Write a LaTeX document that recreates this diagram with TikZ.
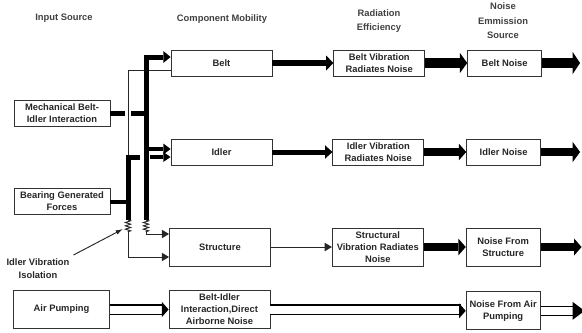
\documentclass[tikz,border=0pt]{standalone}
\usepackage{fontspec}
\setmainfont{Liberation Sans}
\usetikzlibrary{arrows.meta,positioning,decorations.pathmorphing}

\begin{document}
\begin{tikzpicture}[x=0.03cm, y=-0.03cm,
  box/.style={rectangle, draw=black!80, line width=0.7pt, minimum height=0.78cm,
              inner xsep=0.5pt, inner ysep=1pt, align=center, text=black!85,
              font=\bfseries\fontsize{8}{10.2}\selectfont},
  srcbox/.style={box, minimum width=2.88cm},
  compbox/.style={box, minimum width=3.03cm},
  radbox/.style={box, minimum width=2.73cm},
  noisebox/.style={box, minimum width=2.22cm},
  tall/.style={minimum height=1.14cm},
  head/.style={align=center, text=black!75, font=\bfseries\fontsize{8}{12.5}\selectfont},
  flow/.style 2 args={line width=#1, line join=miter,
              -{Triangle[length=0.22cm, width=#2, line width=0pt]}},
  flowline/.style={line width=#1},
  thn/.style={line width=0.8pt, black!85},
  thnarr/.style={thn, -{Triangle[length=0.22cm, width=0.26cm, line width=0pt]}},
  spring/.style={thn, decorate, decoration={zigzag, segment length=0.1cm, amplitude=0.08cm}},
  dbl/.style={double, double distance=0.24cm, line width=0.9pt, shorten >=0.15cm},
  dbltip/.style={line width=0.9pt, -{Triangle[length=0.2cm, width=#1, line width=0pt]}}
]
\useasboundingbox (0,0) rectangle (582,332);

% Column headings
\node[head] (hin)   at (64,18)  {Input Source};
\node[head] (hcomp) at (222,19) {Component Mobility};
\node[head] (hrad)  at (379,21) {Radiation\\Efficiency};
\node[head] (hnoi)  at (503,21) {Noise\\Emmission\\Source};

% Input sources
\node[srcbox] (mech)    at (62,113.5) {Mechanical Belt-\\Idler Interaction};
\node[srcbox] (bearing) at (62,201.5) {Bearing Generated\\Forces};
\node[srcbox, tall] (air) at (61.5,309.5) {Air Pumping};

% Component mobility
\node[compbox] (belt)  at (221.5,63)  {Belt};
\node[compbox] (idler) at (221.5,152) {Idler};
\node[compbox, tall] (struct) at (220,247) {Structure};
\node[compbox, tall] (bi) at (219.5,309.5) {Belt-Idler\\Interaction,Direct\\Airborne Noise};

% Radiation efficiency
\node[radbox, right=1.83cm of belt] (bvib) {Belt Vibration\\Radiates Noise};
\node[radbox, right=1.80cm of idler] (ivib) {Idler Vibration\\Radiates Noise};
\node[radbox, tall, right=1.83cm of struct] (svib) {Structural\\Vibration Radiates\\Noise};

% Noise emission source
\node[noisebox, right=1.26cm of bvib] (bnoise) {Belt Noise};
\node[noisebox, right=1.26cm of ivib] (inoise) {Idler Noise};
\node[noisebox, tall, right=1.26cm of svib] (snoise) {Noise From\\Structure};
\node[noisebox, tall, below=0.75cm of snoise] (anoise) {Noise From Air\\Pumping};

\coordinate[right=1.14cm of bnoise] (bout);
\coordinate[right=1.17cm of inoise] (iout);
\coordinate[right=1.23cm of snoise] (sout);
\coordinate[right=1.32cm of anoise] (aout);

% Junction points
\coordinate (bartop) at (146,57);
\coordinate (barbot) at (146,220);
\coordinate (rsp)    at (146,232);
\coordinate (bidl)   at (146,149);
\coordinate (ltop)   at (128,70);
\coordinate (lknee)  at (128,157);
\coordinate (lsp)    at (128,220);
\coordinate (lspb)   at (128,232);
\coordinate (isotip) at (123,229);

% Bearing forces branch
\draw[thn] (belt.west |- ltop) -- (ltop) -- (lknee);
\draw[flowline=0.15cm, line join=miter] (lsp) -- (lknee) -- ([xshift=-0.18cm]lknee -| bartop);
\draw[flow={0.12cm}{0.3cm}] ([xshift=0.12cm]lknee -| bartop) -- (idler.west |- lknee);
\draw[flowline=0.12cm] (bearing.east) -- (bearing.east -| lknee);

% Belt-idler interaction branch
\draw[flowline=0.14cm] (mech.east) -- ([xshift=-0.1cm]mech.east -| ltop);
\draw[flowline=0.14cm] ([xshift=0.1cm]mech.east -| ltop) -- (mech.east -| bartop);
\draw[flow={0.15cm}{0.36cm}] (barbot) -- (bartop) -- (belt.west |- bartop);
\draw[flow={0.12cm}{0.33cm}] (bidl) -- (idler.west |- bidl);

% Isolation springs
\draw[spring] (lsp) -- (lspb);
\draw[spring] (barbot) -- (rsp);
\draw[thnarr] (lspb) |- ([yshift=-0.3cm]struct.west);
\draw[thnarr] (rsp) |- ([yshift=0.39cm]struct.west);
\node[head, text=black!85, font=\bfseries\fontsize{8}{11}\selectfont] (iso) at (38,269) {Idler Vibration\\Isolation};
\draw[thn, -{Latex[length=0.22cm, width=0.14cm]}] (iso.north east) -- (isotip);

% Belt row
\draw[flow={0.2cm}{0.45cm}] (belt.east) -- (belt.east -| bvib.west);
\draw[flow={0.3cm}{0.6cm}] (bvib.east) -- (bvib.east -| bnoise.west);
\draw[flow={0.3cm}{0.66cm}] (bnoise.east) -- (bnoise.east -| bout);

% Idler row
\draw[flow={0.15cm}{0.4cm}] (idler.east) -- (idler.east -| ivib.west);
\draw[flow={0.24cm}{0.5cm}] (ivib.east) -- (ivib.east -| inoise.west);
\draw[flow={0.24cm}{0.6cm}] (inoise.east) -- (inoise.east -| iout);

% Structure row
\draw[thnarr] (struct.east) -- (struct.east -| svib.west);
\draw[flow={0.22cm}{0.5cm}] (svib.east) -- (svib.east -| snoise.west);
\draw[flow={0.22cm}{0.5cm}] (snoise.east) -- (snoise.east -| sout);

% Air pumping row
\draw[dbl] (air.east) -- (bi.west);
\draw[dbltip=0.45cm] ([xshift=-0.2cm]bi.west) -- (bi.west);
\draw[dbl] (bi.east) -- (bi.east -| anoise.west);
\draw[dbltip=0.45cm] ([xshift=-0.2cm]anoise.west) -- (anoise.west);
\draw[dbl, shorten >=0.3cm] (anoise.east) -- (anoise.east -| aout);
\draw[dbltip=0.54cm, -{Triangle[length=0.36cm, width=0.54cm, line width=0pt]}] ([xshift=-0.36cm]aout) -- (aout);
\end{tikzpicture}
\end{document}
